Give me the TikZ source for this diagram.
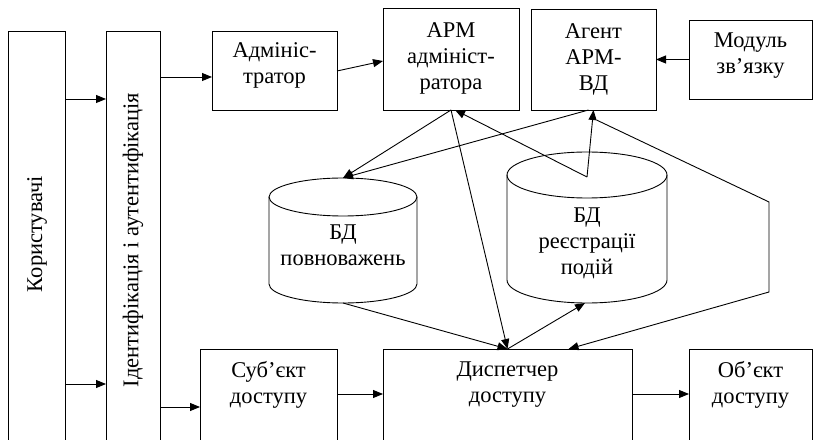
\documentclass[tikz,border=0pt]{standalone}
\usepackage{fontspec}
\setmainfont{Liberation Serif}
\usetikzlibrary{arrows.meta,calc}
\begin{document}
\begin{tikzpicture}[x=1pt,y=1pt,
  box/.style={draw, line width=0.9pt, inner sep=0pt, outer sep=0pt},
  lbl/.style={align=center, font=\fontsize{22.5}{26}\selectfont, inner sep=0pt},
  arr/.style={line width=0.9pt, -{Triangle[length=10pt,width=8pt]}},
  ln/.style={line width=0.9pt}]
\useasboundingbox (0,0) rectangle (813,439);
\clip (0,0) rectangle (813,439);
% boxes
\node[box, minimum width=57, minimum height=419] (users) at (36.5,198.5) {};
\node[box, minimum width=54, minimum height=419] (ident) at (133,198.5) {};
\node[box, minimum width=125, minimum height=79] (admin) at (274.5,368.5) {};
\node[box, minimum width=136, minimum height=102] (armadm) at (451,380) {};
\node[box, minimum width=125, minimum height=101] (agent) at (593.5,379.5) {};
\node[box, minimum width=123, minimum height=79] (module) at (750.5,379.5) {};
\node[box, minimum width=137, minimum height=101] (subj) at (268.5,39.5) {};
\node[box, minimum width=249, minimum height=101] (disp) at (507.5,39.5) {};
\node[box, minimum width=123, minimum height=101] (obj) at (750.5,39.5) {};
% texts
\node[lbl, rotate=90] (userst) at (37,205) {Користувачі};
\node[lbl, rotate=90] (identt) at (133,199) {Ідентифікація і аутентифікація};
\node[lbl] (admint) at (274.5,374) {Адмініс-\\тратор};
\node[lbl] (armadmt) at (451,381) {АРМ\\адмініст-\\ратора};
\node[lbl] (agentt) at (593.5,380) {Агент\\АРМ-\\ВД};
\node[lbl] (modulet) at (750.5,383) {Модуль\\зв’язку};
\node[lbl] (subjt) at (268.5,54) {Суб’єкт\\доступу};
\node[lbl] (dispt) at (507.5,54) {Диспетчер\\доступу};
\node[lbl] (objt) at (750.5,54) {Об’єкт\\доступу};
% cylinders
\draw[ln] (343,242) ellipse[x radius=74pt, y radius=19pt];
\draw[ln] (269,242) -- (269,155) arc[start angle=180, end angle=360, x radius=74pt, y radius=19pt] -- (417,242);
\node[lbl] (powt) at (343,194) {БД\\повноважень};
\coordinate (powtop) at (343,261);
\coordinate (powbot) at (343,136);
\draw[ln] (587,264) ellipse[x radius=80pt, y radius=23pt];
\draw[ln] (507,264) -- (507,159) arc[start angle=180, end angle=360, x radius=80pt, y radius=23pt] -- (667,264);
\node[lbl] (regt) at (587,196) {БД\\реєстрації\\подій};
\coordinate (regc) at (587,262);
\coordinate (regbot) at (585,136);
% connectors
\draw[arr] (users.east|-0,340) -- (ident.west|-0,340);
\draw[arr] (users.east|-0,55) -- (ident.west|-0,55);
\draw[arr] (ident.east|-0,362) -- (admin.west|-0,362);
\draw[arr] (ident.east|-0,32) -- (subj.west|-0,32);
\draw[arr] (admin.east|-0,368) -- (armadm.west|-0,378);
\draw[arr] (module.west) -- (agent.east|-module.west);
\draw[arr] (subj.east|-0,45) -- (disp.west|-0,45);
\draw[arr] (disp.east|-0,45) -- (obj.west|-0,45);
\draw[arr] (armadm.south) -- (powtop);
\draw[arr] ($(agent.south)+(-5,0)$) -- (powtop);
\draw[arr] (armadm.south) -- (disp.north);
\draw[arr] (powbot) -- (disp.north);
\draw[arr] (disp.north) -- (regbot);
\draw[arr] (regc) -- ($(armadm.south)+(4,0)$);
\draw[arr] (regc) -- (agent.south);
\coordinate (bend1) at (769,237);
\coordinate (bend2) at (769,147);
\draw[arr] ($(agent.south)+(3,-10)$) -- (bend1) -- (bend2) -- ($(disp.north)+(61,0)$);
\end{tikzpicture}
\end{document}
